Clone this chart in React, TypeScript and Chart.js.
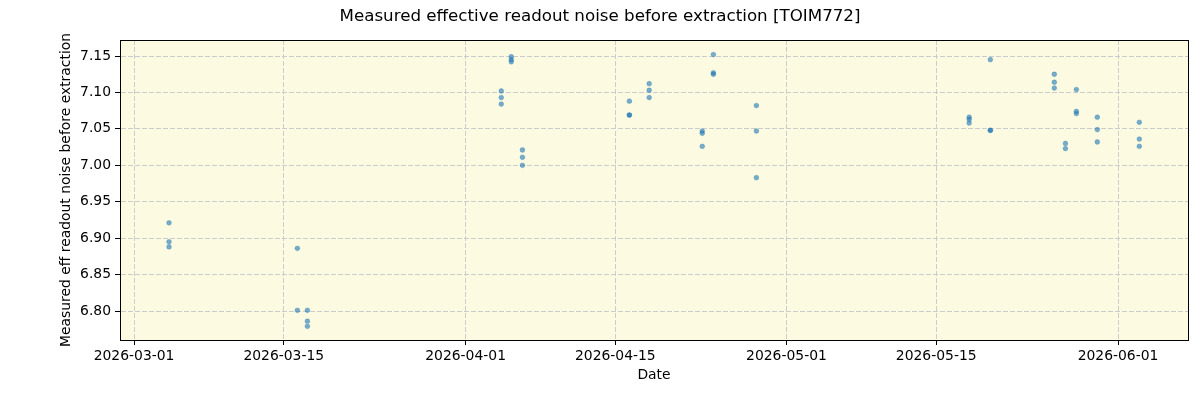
import React, { useEffect, useRef } from "react";
import { Chart, registerables } from "chart.js";

Chart.register(...registerables);

const TITLE = "Measured effective readout noise before extraction [TOIM772]";
const X_LABEL = "Date";
const Y_LABEL = "Measured eff readout noise before extraction";

const obsDates: string[] = [
  "2026-03-04T06:30Z", "2026-03-04T06:30Z", "2026-03-04T06:30Z",
  "2026-03-16T06:30Z", "2026-03-16T06:30Z",
  "2026-03-17T05:00Z", "2026-03-17T05:00Z", "2026-03-17T05:00Z",
  "2026-04-04T08:00Z", "2026-04-04T08:00Z", "2026-04-04T08:00Z",
  "2026-04-05T06:30Z", "2026-04-05T06:30Z", "2026-04-05T06:30Z",
  "2026-04-06T07:30Z", "2026-04-06T07:30Z", "2026-04-06T07:30Z",
  "2026-04-16T07:30Z", "2026-04-16T07:30Z", "2026-04-16T07:30Z",
  "2026-04-18T04:00Z", "2026-04-18T04:00Z", "2026-04-18T04:00Z",
  "2026-04-23T03:00Z", "2026-04-23T03:00Z", "2026-04-23T03:00Z",
  "2026-04-24T04:00Z", "2026-04-24T04:00Z", "2026-04-24T04:00Z",
  "2026-04-28T04:30Z", "2026-04-28T04:30Z", "2026-04-28T04:30Z",
  "2026-05-18T02:00Z", "2026-05-18T02:00Z", "2026-05-18T02:00Z",
  "2026-05-20T01:30Z", "2026-05-20T01:30Z", "2026-05-20T01:30Z",
  "2026-05-26T01:00Z", "2026-05-26T01:00Z", "2026-05-26T01:00Z",
  "2026-05-27T02:00Z", "2026-05-27T02:00Z",
  "2026-05-28T02:30Z", "2026-05-28T02:30Z", "2026-05-28T02:30Z",
  "2026-05-30T01:30Z", "2026-05-30T01:30Z", "2026-05-30T01:30Z",
  "2026-06-02T23:45Z", "2026-06-02T23:45Z", "2026-06-02T23:45Z",
];

const noiseValues: number[] = [
  6.921, 6.895, 6.888,
  6.886, 6.801,
  6.801, 6.786, 6.779,
  7.102, 7.093, 7.084,
  7.149, 7.145, 7.142,
  7.021, 7.011, 7.0,
  7.088, 7.069, 7.069,
  7.112, 7.103, 7.093,
  7.047, 7.044, 7.026,
  7.152, 7.127, 7.125,
  7.082, 7.047, 6.983,
  7.066, 7.063, 7.058,
  7.145, 7.048, 7.048,
  7.125, 7.114, 7.106,
  7.03, 7.023,
  7.104, 7.074, 7.071,
  7.066, 7.049, 7.032,
  7.059, 7.036, 7.026,
];

const xTickDates: string[] = [
  "2026-03-01", "2026-03-15", "2026-04-01", "2026-04-15",
  "2026-05-01", "2026-05-15", "2026-06-01",
];
const X_MIN_DATE = "2026-02-27T16:30Z";
const X_MAX_DATE = "2026-06-07T13:00Z";
const Y_MIN = 6.7602;
const Y_MAX = 7.172;
const Y_STEP = 0.05;

const DAY = 86400000;
const toDays = (s: string) => Date.parse(s.length === 10 ? s + "T00:00Z" : s) / DAY;
const fmtDay = (d: number) => new Date(Math.round(d * DAY)).toISOString().slice(0, 10);

const FONT = "'DejaVu Sans', sans-serif";

export default function App() {
  const ref = useRef<HTMLCanvasElement | null>(null);
  useEffect(() => {
    document.body.style.margin = "0";
    const canvas = ref.current!;
    const points = obsDates.map((d, i) => ({ x: toDays(d), y: noiseValues[i] }));
    const frame = {
      id: "frame",
      beforeDraw(chart: any) {
        const { ctx, chartArea: a } = chart;
        ctx.save();
        ctx.fillStyle = "#ffffff";
        ctx.fillRect(0, 0, chart.width, chart.height);
        ctx.fillStyle = "#fcfbe2";
        ctx.fillRect(a.left, a.top, a.right - a.left, a.bottom - a.top);
        ctx.restore();
      },
      afterDraw(chart: any) {
        const { ctx, chartArea: a } = chart;
        ctx.save();
        ctx.strokeStyle = "#000";
        ctx.lineWidth = 1;
        ctx.strokeRect(Math.round(a.left) + 0.5, Math.round(a.top) + 0.5, Math.round(a.right - a.left), Math.round(a.bottom - a.top));
        ctx.fillStyle = "#000";
        ctx.textAlign = "center";
        ctx.textBaseline = "middle";
        ctx.font = `16.7px ${FONT}`;
        ctx.fillText(TITLE, 600, 17);
        ctx.font = `13.9px ${FONT}`;
        ctx.fillText(X_LABEL, (a.left + a.right) / 2, 375);
        ctx.translate(66, (a.top + a.bottom) / 2);
        ctx.rotate(-Math.PI / 2);
        ctx.fillText(Y_LABEL, 0, 0);
        ctx.restore();
      },
    };
    const chart = new Chart(canvas, {
      type: "scatter",
      data: {
        datasets: [
          {
            data: points,
            backgroundColor: "rgba(31,119,180,0.6)",
            borderColor: "rgba(31,119,180,0.6)",
            borderWidth: 0.5,
            pointRadius: 2.4,
          },
        ],
      },
      options: {
        animation: false,
        responsive: false,
        devicePixelRatio: 1,
        layout: { padding: { top: 40, right: 12, left: 0, bottom: 0 } },
        plugins: { legend: { display: false }, title: { display: false }, tooltip: { enabled: false } },
        scales: {
          x: {
            type: "linear",
            min: toDays(X_MIN_DATE),
            max: toDays(X_MAX_DATE),
            afterFit: (s: any) => { s.height = 60; },
            afterBuildTicks: (s: any) => { s.ticks = xTickDates.map((d) => ({ value: toDays(d) })); },
            ticks: {
              autoSkip: false,
              maxRotation: 0,
              padding: 3,
              color: "#000",
              font: { family: FONT, size: 13.9 },
              callback: (v: any) => fmtDay(Number(v)),
            },
            grid: { color: "#cccccc", lineWidth: 1, tickColor: "#000", tickLength: 5, tickBorderDash: [] },
            border: { display: true, color: "#000", dash: [5, 2] },
          },
          y: {
            type: "linear",
            min: Y_MIN,
            max: Y_MAX,
            afterFit: (s: any) => { s.width = 120; },
            ticks: {
              stepSize: Y_STEP,
              includeBounds: false,
              padding: 4,
              color: "#000",
              font: { family: FONT, size: 13.9 },
              callback: (v: any) => Number(v).toFixed(2),
            },
            grid: { color: "#cccccc", lineWidth: 1, tickColor: "#000", tickLength: 5, tickBorderDash: [] },
            border: { display: true, color: "#000", dash: [5, 2] },
          },
        },
      },
      plugins: [frame],
    } as any);
    return () => chart.destroy();
  }, []);
  return (
    <div style={{ position: "absolute", left: 0, top: 0, width: 1200, height: 400 }}>
      <canvas ref={ref} width={1200} height={400} />
    </div>
  );
}
